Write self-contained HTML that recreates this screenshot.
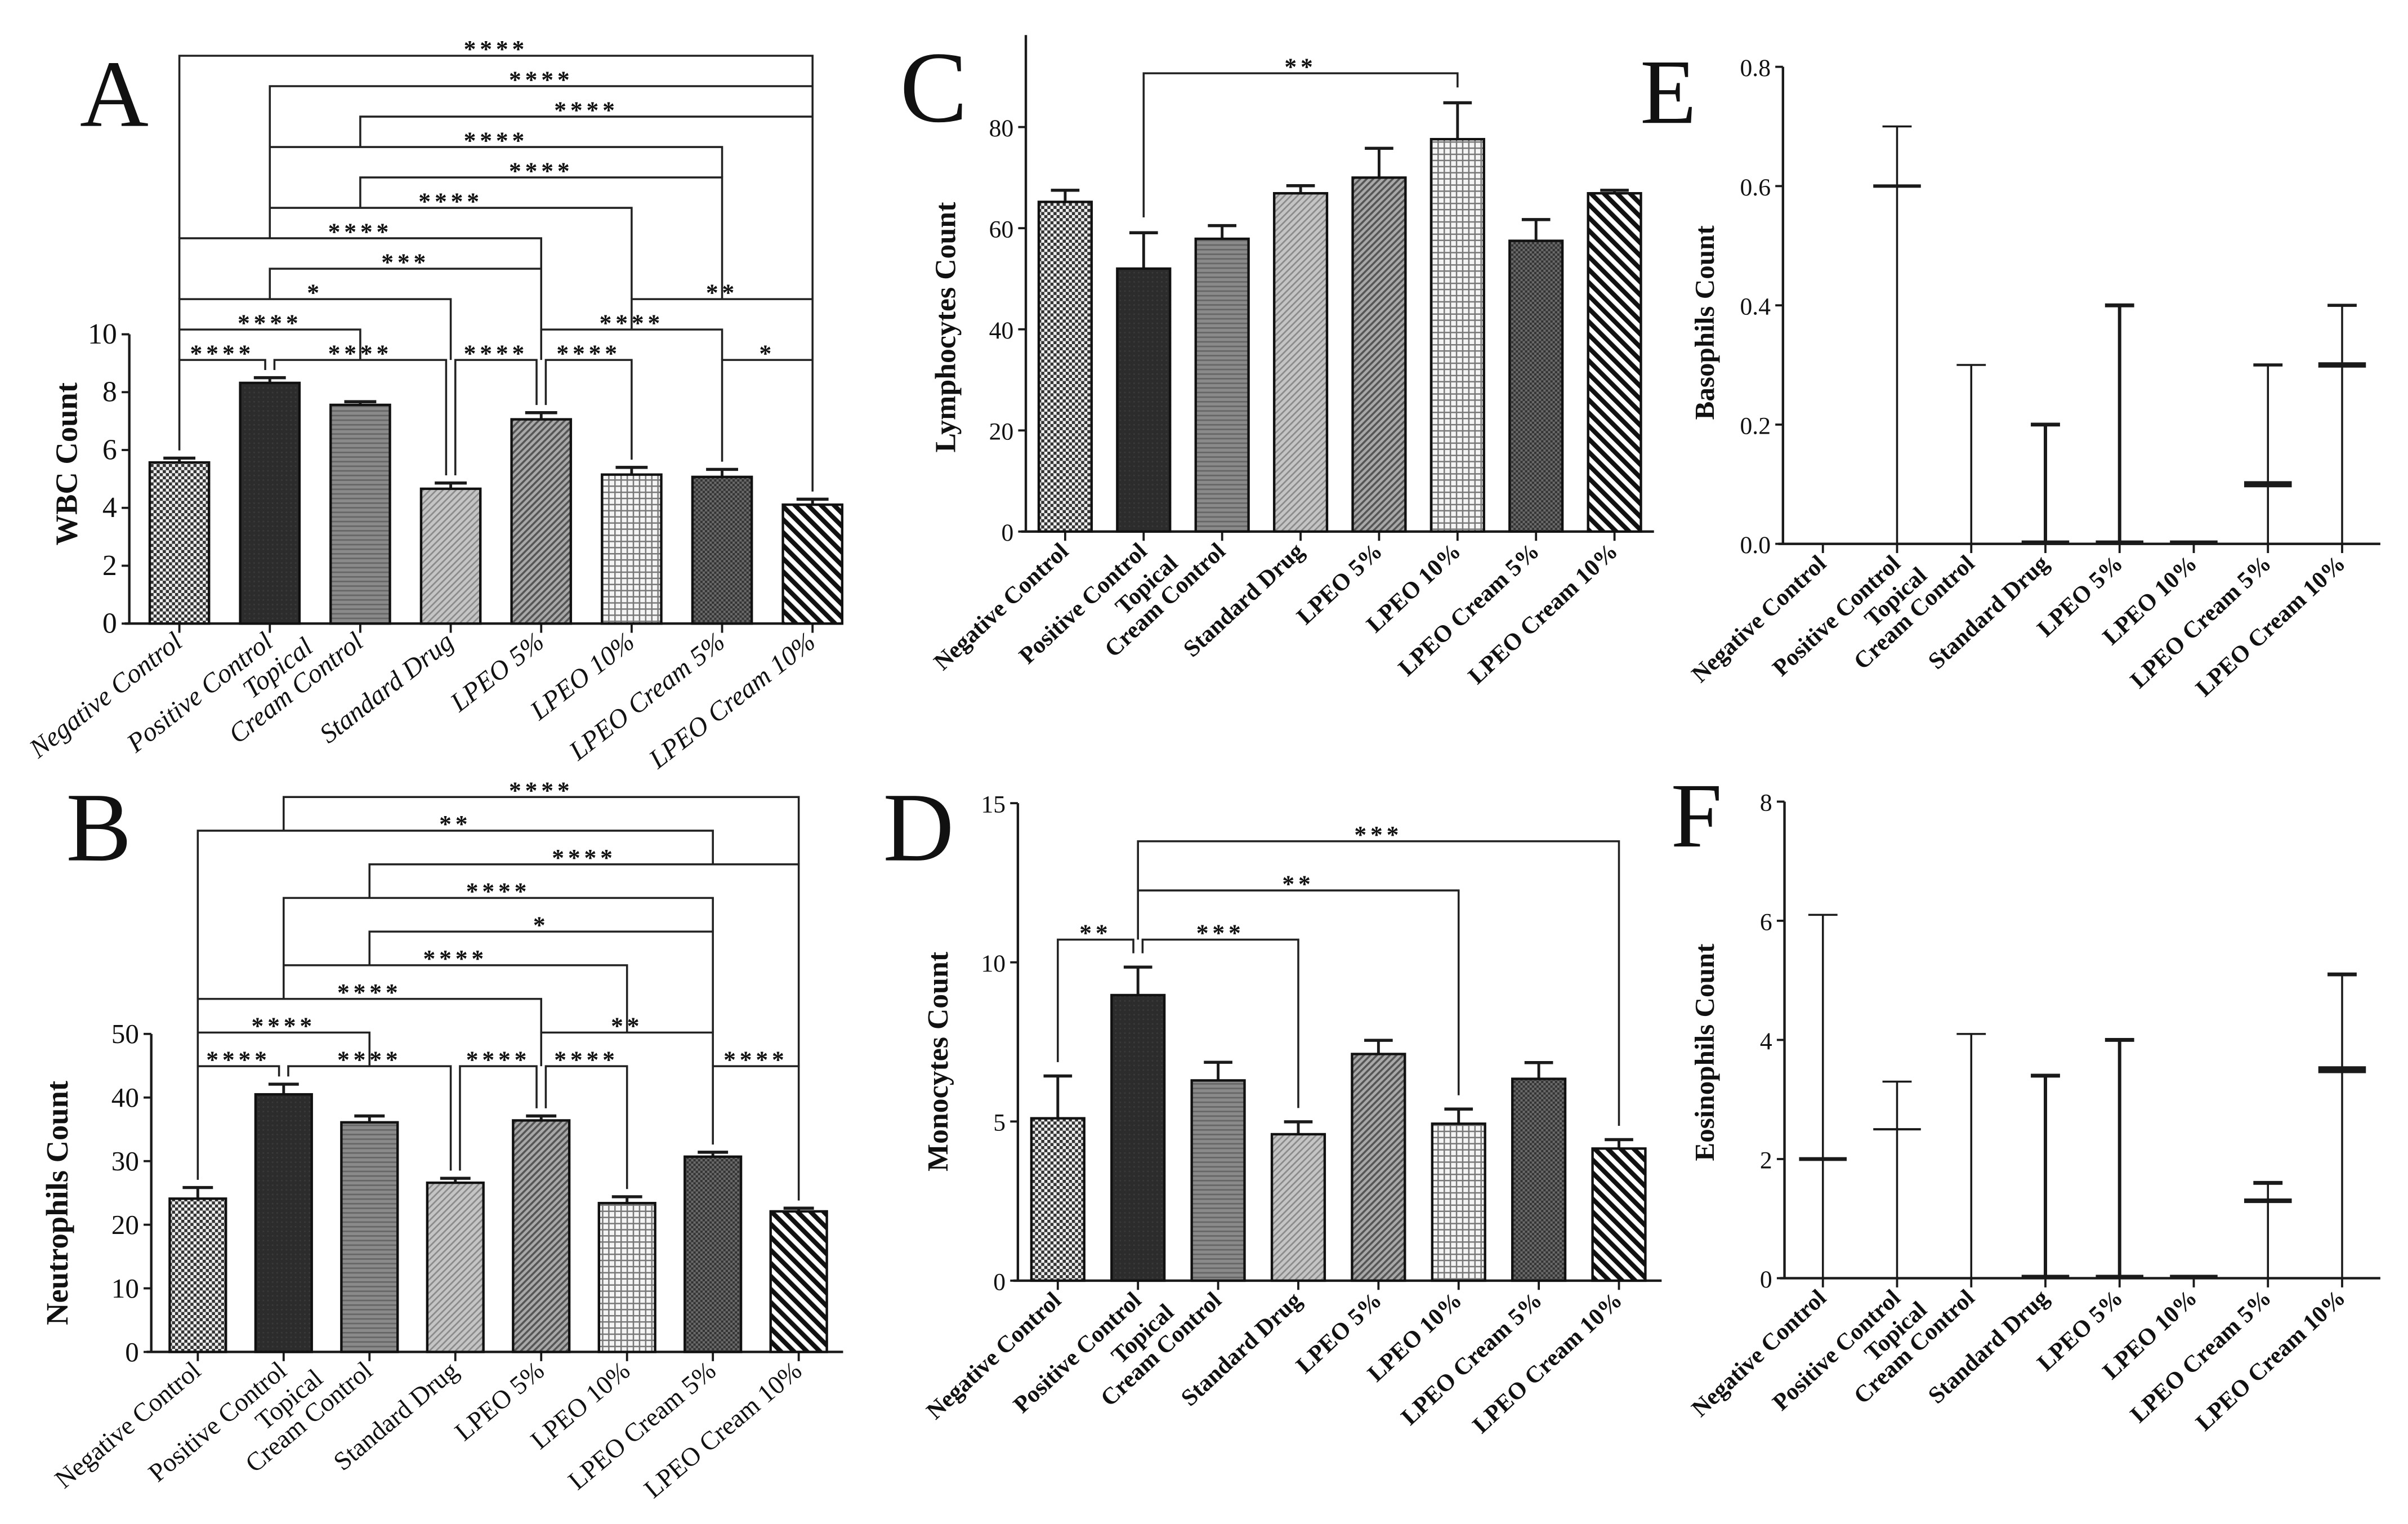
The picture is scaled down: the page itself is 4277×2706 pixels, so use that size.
<!DOCTYPE html>
<html><head><meta charset="utf-8"><style>
html,body{margin:0;padding:0;background:#fff;}
svg{display:block;}
text{font-family:"Liberation Serif",serif;fill:#111;}
</style></head><body>
<svg id="fig" xmlns="http://www.w3.org/2000/svg" width="4277" height="2706" viewBox="0 0 1568 992" preserveAspectRatio="none">
<defs>
<pattern id="pNeg" patternUnits="userSpaceOnUse" width="4" height="4"><rect width="4" height="4" fill="#eee"/><rect width="2" height="2" fill="#333"/><rect x="2" y="2" width="2" height="2" fill="#333"/></pattern>
<pattern id="pPos" patternUnits="userSpaceOnUse" width="3" height="3"><rect width="3" height="3" fill="#2c2c2c"/><rect width="1" height="1" fill="#3a3a3a"/></pattern>
<pattern id="pTop" patternUnits="userSpaceOnUse" width="3" height="3"><rect width="3" height="3" fill="#8a8a8a"/><rect width="3" height="1" fill="#666"/></pattern>
<pattern id="pStd" patternUnits="userSpaceOnUse" width="3" height="3" patternTransform="rotate(45)"><rect width="3" height="3" fill="#c4c4c4"/><rect width="1" height="3" fill="#8a8a8a"/></pattern>
<pattern id="pL5" patternUnits="userSpaceOnUse" width="3" height="3" patternTransform="rotate(45)"><rect width="3" height="3" fill="#a8a8a8"/><rect width="1.3" height="3" fill="#555"/></pattern>
<pattern id="pL10" patternUnits="userSpaceOnUse" width="4" height="4"><rect width="4" height="4" fill="#f4f4f4"/><rect width="4" height="0.9" fill="#777"/><rect width="0.9" height="4" fill="#777"/></pattern>
<pattern id="pC5" patternUnits="userSpaceOnUse" width="3" height="3"><rect width="3" height="3" fill="#6a6a6a"/><rect width="1.5" height="1.5" fill="#333"/><rect x="1.5" y="1.5" width="1.5" height="1.5" fill="#333"/></pattern>
<pattern id="pC10" patternUnits="userSpaceOnUse" width="6" height="6" patternTransform="rotate(-45)"><rect width="6" height="6" fill="#fff"/><rect width="3" height="6" fill="#111"/></pattern>
</defs>
<text x="52" y="82" font-size="62">A</text>
<text x="43" y="560" font-size="64">B</text>
<text x="586" y="79" font-size="66">C</text>
<text x="575" y="560" font-size="64">D</text>
<text x="1068" y="80" font-size="60">E</text>
<text x="1088" y="551" font-size="60">F</text>
</svg>
<script>
const categories = ["Negative Control","Positive Control","Topical|Cream Control","Standard Drug","LPEO 5%","LPEO 10%","LPEO Cream 5%","LPEO Cream 10%"];
const wbcMeans = [5.57,8.32,7.56,4.66,7.06,5.15,5.07,4.11];
const wbcErrors = [0.15,0.18,0.11,0.2,0.23,0.25,0.26,0.19];
const neutMeans = [24.1,40.5,36.1,26.6,36.4,23.4,30.7,22.1];
const neutErrors = [1.75,1.6,1.0,0.7,0.7,1.0,0.7,0.5];
const lymphMeans = [65.2,52,57.9,66.9,70,77.6,57.5,66.9];
const lymphErrors = [2.3,7.1,2.6,1.5,5.8,7.2,4.2,0.6];
const monoMeans = [5.1,8.97,6.29,4.6,7.12,4.93,6.34,4.15];
const monoErrors = [1.33,0.88,0.57,0.39,0.43,0.46,0.51,0.28];
const wbcTicks = [0,2,4,6,8,10];
const neutTicks = [0,10,20,30,40,50];
const lymphTicks = [0,20,40,60,80];
const monoTicks = [0,5,10,15];
const basoTicks = ["0.0","0.2","0.4","0.6","0.8"];
const eosTicks = ["0","2","4","6","8"];
const basoMedians = [0,0.6,0,0,0,0,0.1,0.3];
const basoMax = [0,0.7,0.3,0.2,0.4,0,0.3,0.4];
const eosMedians = [2,2.5,0,0,0,0,1.3,3.5];
const eosMax = [6.1,3.3,4.1,3.4,4.0,0,1.6,5.1];
// significance brackets: [from, to, label, row]
const wbcBrackets = [[0,7,"****",10],[1,7,"****",9],[2,7,"****",8],[1,6,"****",7],[2,6,"****",6],[1,5,"****",5],[0,4,"****",4],[1,4,"***",3],[0,3,"*",2],[5,7,"**",2],[0,2,"****",1],[4,6,"****",1],[0,1,"****",0],[1,3,"****",0],[3,4,"****",0],[4,5,"****",0],[6,7,"*",0]];
const neutBrackets = [[1,7,"****",8],[0,6,"**",7],[2,7,"****",6],[1,6,"****",5],[2,6,"*",4],[1,5,"****",3],[0,4,"****",2],[0,2,"****",1],[4,6,"**",1],[0,1,"****",0],[1,3,"****",0],[3,4,"****",0],[4,5,"****",0],[6,7,"****",0]];
const lymphBrackets = [[1,5,"**",0]];
const monoBrackets = [[1,7,"***",2],[1,5,"**",1],[0,1,"**",0],[1,3,"***",0]];

const patterns = ["pNeg","pPos","pTop","pStd","pL5","pL10","pC5","pC10"];
const svg = document.getElementById('fig');
const NS = "http://www.w3.org/2000/svg";
function mk(tag, name, parent){
  const el = document.createElementNS(NS, tag);
  
  
  (parent||svg).appendChild(el);
  return el;
}
function line(x1,y1,x2,y2,w,name,g){
  const l = mk('line', name, g);
  l.setAttribute('x1',x1); l.setAttribute('y1',y1); l.setAttribute('x2',x2); l.setAttribute('y2',y2);
  l.setAttribute('stroke','#1a1a1a'); l.setAttribute('stroke-width',w);
  return l;
}
function txt(x,y,s,size,name,g,anchor,extra){
  const t = mk('text', name, g);
  t.setAttribute('x',x); t.setAttribute('y',y); t.setAttribute('font-size',size);
  t.setAttribute('text-anchor',anchor||'middle');
  if(extra){ for(const k in extra) t.setAttribute(k, extra[k]); }
  t.textContent = s;
  return t;
}
function axes(P, ticks, tickVals, g){
  const yS = v => P.y0 - (v/P.vmax)*(P.y0-P.yTop);
  line(P.axisX, P.y0, P.axisX, P.axisTop===undefined?P.yTop:P.axisTop, 1.6, 'y-axis', g);
  line(P.axisX-3, P.y0, P.right, P.y0, 1.6, 'x-axis', g);
  ticks.forEach((t,i)=>{
    const v = tickVals[i]; const y = yS(v);
    line(P.axisX-5, y, P.axisX, y, 1.4, 'y-tick', g);
    txt(P.axisX-8, y+6, t, P.tickSize, 'y-tick-label', g, 'end');
  });
  categories.forEach((c,i)=>{
    const x = P.x0 + i*P.step;
    line(x, P.y0, x, P.y0+6, 1.4, 'x-tick', g);
    const ax = x+3, ay = P.y0+14;
    const parts = c.split('|');
    const st = {transform:`rotate(${P.rot} ${ax} ${ay})`, 'font-style':P.italic?'italic':'normal','font-weight':P.bold?'bold':'normal'};
    if(parts.length===1){
      txt(ax, ay, parts[0], P.labSize, 'x-tick-label', g, 'end', st);
    } else {
      txt(ax, ay, parts[1], P.labSize, 'x-tick-label', g, 'end', st);
      txt(ax-28, ay-P.labSize, parts[0], P.labSize, 'x-tick-label', g, 'end', st);
    }
  });
  txt(P.titleX, P.titleY, P.title, P.titleSize, 'y-axis-title', g, 'middle', {transform:`rotate(-90 ${P.titleX} ${P.titleY})`,'font-weight':'bold'});
  return yS;
}
function barPanel(P, means, errs, ticks, brackets){
  const g = mk('g', P.name);
  const yS = axes(P, ticks.map(String), ticks, g);
  const xOf = i => P.x0 + i*P.step;
  means.forEach((m,i)=>{
    const x = xOf(i), yt = yS(m), ye = yS(m+errs[i]);
    line(x, yt, x, ye, 1.8, 'error-bar', g);
    line(x-P.barW*0.27, ye, x+P.barW*0.27, ye, 2, 'error-cap', g);
    const r = mk('rect', 'bar-'+i, g);
    r.setAttribute('x', x-P.barW/2); r.setAttribute('y', yt);
    r.setAttribute('width', P.barW); r.setAttribute('height', P.y0-yt);
    r.setAttribute('fill', 'url(#'+patterns[i]+')'); r.setAttribute('stroke','#111'); r.setAttribute('stroke-width',1.6);
  });
  const rowY = r => P.bBase - r*P.bStep;
  brackets.forEach(b=>{
    const [a, c, lab, row] = b;
    const y = rowY(row);
    const touches = k => brackets.some(o => o!==b && o[3]===row && (o[0]===k || o[1]===k));
    const xa = xOf(a) + (touches(a)?3:0);
    const xc = xOf(c) - (touches(c)?3:0);
    const bottom = k => {
      let best = null;
      brackets.forEach(o=>{ if(o[3]<row && o[0]<=k && o[1]>=k){ if(best===null || o[3]>best) best=o[3]; } });
      return best===null ? yS(means[k]+errs[k]) - P.gap : rowY(best);
    };
    const p = mk('path', 'significance-bracket', g);
    p.setAttribute('d', `M${xa},${bottom(a)} L${xa},${y} L${xc},${y} L${xc},${bottom(c)}`);
    p.setAttribute('fill','none'); p.setAttribute('stroke','#222'); p.setAttribute('stroke-width',1.3);
    txt((xa+xc)/2, y+1, lab, 16, 'significance-label', g, 'middle', {'font-weight':'bold','letter-spacing':'2.5'});
  });
}
function rangePanel(P, medians, maxes, ticks, tickVals, medW, vW, capW){
  const g = mk('g', P.name);
  const yS = axes(P, ticks, tickVals, g);
  medians.forEach((m,i)=>{
    const x = P.x0 + i*P.step;
    if(maxes[i]>0 && vW[i]>0){
      line(x, P.y0, x, yS(maxes[i]), vW[i], 'range-line', g);
      line(x-9.5, yS(maxes[i]), x+9.5, yS(maxes[i]), capW[i], 'range-cap', g);
    }
    if(medW[i]>0){
      line(x-15.5, yS(m)-(m===0?medW[i]/2:0), x+15.5, yS(m)-(m===0?medW[i]/2:0), medW[i], 'median-line', g);
    }
  });
}
barPanel({name:'panel-a-wbc',axisX:84.2,y0:405.9,yTop:217.6,vmax:10,x0:116.8,step:58.9,right:548,barW:38.6,tickSize:19,labSize:17.5,rot:-38,italic:true,bold:false,title:'WBC Count',titleSize:20,titleX:50,titleY:302,bBase:234.3,bStep:19.8,gap:5}, wbcMeans, wbcErrors, wbcTicks, wbcBrackets);
barPanel({name:'panel-b-neutrophils',axisX:98.5,y0:880,yTop:673,vmax:50,x0:128.8,step:55.9,right:549,barW:36.6,tickSize:18,labSize:17,rot:-40,italic:false,bold:false,title:'Neutrophils Count',titleSize:20,titleX:44,titleY:783,bBase:694,bStep:21.9,gap:5}, neutMeans, neutErrors, neutTicks, neutBrackets);
barPanel({name:'panel-c-lymphocytes',axisX:668,y0:346,yTop:82.7,axisTop:22.8,vmax:80,x0:693.6,step:51.1,right:1077,barW:34.4,tickSize:16,labSize:15.5,rot:-43,italic:false,bold:true,title:'Lymphocytes Count',titleSize:19,titleX:622,titleY:213,bBase:47.7,bStep:20,gap:10}, lymphMeans, lymphErrors, lymphTicks, lymphBrackets);
barPanel({name:'panel-d-monocytes',axisX:662.8,y0:833.6,yTop:522.8,vmax:15,x0:688.8,step:52.2,right:1082,barW:34.4,tickSize:16,labSize:15.5,rot:-43,italic:false,bold:true,title:'Monocytes Count',titleSize:19,titleX:617,titleY:691,bBase:611.6,bStep:32,gap:9}, monoMeans, monoErrors, monoTicks, monoBrackets);
rangePanel({name:'panel-e-basophils',axisX:1161,y0:354,yTop:43.5,vmax:0.8,x0:1187,step:48.3,right:1550,tickSize:16,labSize:15.5,rot:-43,italic:false,bold:true,title:'Basophils Count',titleSize:18,titleX:1116,titleY:210}, basoMedians, basoMax, basoTicks, [0,0.2,0.4,0.6,0.8], [0,2.2,0,2.2,2.2,2.2,4,3.5], [0,1.3,1.3,2.2,2.2,0,1.3,1.3], [0,1.3,1.3,2.5,2.5,0,2,2]);
rangePanel({name:'panel-f-eosinophils',axisX:1162,y0:832,yTop:521.8,vmax:8,x0:1187,step:48.3,right:1550,tickSize:16,labSize:15.5,rot:-43,italic:false,bold:true,title:'Eosinophils Count',titleSize:18,titleX:1116,titleY:685}, eosMedians, eosMax, eosTicks, [0,2,4,6,8], [2.5,1.5,0,2.2,2.2,2.2,3,4.5], [1.3,1.3,1.3,2.2,2.2,0,1.3,1.3], [1.3,1.3,1.3,2.5,2.5,0,2.5,2.5]);
</script>
</body></html>
